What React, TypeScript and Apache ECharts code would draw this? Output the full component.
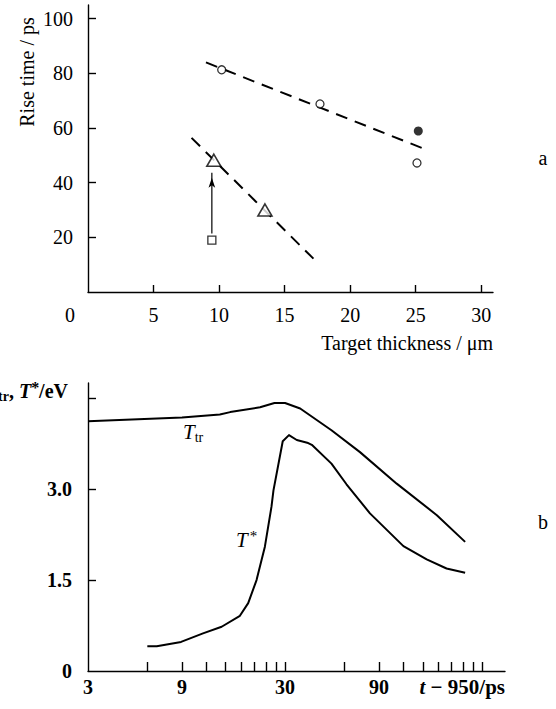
import React, { useEffect, useRef } from 'react';
import * as echarts from 'echarts';

// ---------- Panel a : rise time vs target thickness ----------
const thicknessLabels = [0, 5, 10, 15, 20, 25, 30];
const thicknessTicks = [5, 10, 15, 20, 25, 30];
const riseTicks = [20, 40, 60, 80, 100];
const openCircles = [[10.2, 81.3], [17.7, 68.8], [25.1, 47.2]];
const filledCircles = [[25.2, 58.9]];
const triangles = [[9.6, 48.2], [13.5, 30.0]];
const squares = [[9.45, 19.0]];
const arrowPoints = [[9.45, 21.4], [9.45, 43.6]];
const fitLineUpper = [[9.0, 84.0], [26.0, 51.7]];
const fitLineLower = [[7.9, 56.4], [17.2, 12.2]];

// ---------- Panel b : temperatures vs time ----------
const timeLabels = [3, 9, 30, 90];
const timeTicks = [6, 9, 12, 15, 18, 21, 24, 27, 30, 60, 90, 120, 150, 180, 210, 240, 270, 300];
const tempTicks = [1.5, 3, 4.5];
const tempLabels = [0, 1.5, 3];
const tTrTime = [3, 9, 14, 15.8, 22.4, 26.5, 30, 35.8, 51.6, 72, 110.6, 176.8, 246];
const tTrValue = [4.12, 4.18, 4.23, 4.27, 4.35, 4.42, 4.42, 4.33, 3.97, 3.61, 3.09, 2.57, 2.13];
const tStarTime = [6.0, 6.7, 8.9, 11.5, 14.3, 17.7, 19.5, 21.5, 23.7, 25.6, 26.2, 29.2, 31.4, 34.4, 39.3, 41.0, 51.6, 61.5, 80.9, 119.6, 157, 198, 246];
const tStarValue = [0.41, 0.41, 0.48, 0.62, 0.73, 0.91, 1.12, 1.5, 2.05, 2.71, 2.98, 3.79, 3.89, 3.81, 3.76, 3.73, 3.42, 3.08, 2.6, 2.06, 1.84, 1.69, 1.62];

const SERIF = "'Liberation Serif', 'Times New Roman', serif";
const BLACK = '#000';

const lg = (v: number) => Math.log10(v);

export default function App() {
  const ref = useRef<HTMLDivElement>(null);

  useEffect(() => {
    if (!ref.current) return;
    const chart = echarts.init(ref.current, undefined, { renderer: 'svg' });

    const axisLine = { show: true, onZero: false, lineStyle: { color: BLACK, width: 1.4 } };
    const baseLabel = { color: BLACK, fontFamily: SERIF, fontSize: 20 };

    const option: any = {
      animation: false,
      backgroundColor: '#fff',
      grid: [
        { left: 88, top: 5, width: 405, height: 287, containLabel: false },
        { left: 88, top: 383, width: 417, height: 288, containLabel: false },
      ],
      xAxis: [
        {
          type: 'value', gridIndex: 0, min: 0, max: 30.9,
          axisLine, splitLine: { show: false },
          axisTick: { show: true, inside: true, length: 7, customValues: thicknessTicks, lineStyle: { color: BLACK, width: 1.4 } },
          axisLabel: {
            ...baseLabel, margin: 13, customValues: thicknessLabels,
            formatter: (v: number) => (v === 0 ? '{z|0}' : String(v)),
            rich: { z: { ...baseLabel, padding: [0, 36, 0, 0] } },
          },
        },
        {
          type: 'value', gridIndex: 1, min: lg(3), max: lg(392),
          axisLine, splitLine: { show: false },
          axisTick: { show: true, inside: true, length: 9, customValues: timeTicks.map(lg), lineStyle: { color: BLACK, width: 1.4 } },
          axisLabel: {
            ...baseLabel, fontWeight: 'bold', margin: 6, customValues: timeLabels.map(lg),
            formatter: (v: number) => String(Math.round(Math.pow(10, v))),
          },
        },
      ],
      yAxis: [
        {
          type: 'value', gridIndex: 0, min: 0, max: 105,
          axisLine, splitLine: { show: false },
          axisTick: { show: true, inside: true, length: 8, customValues: riseTicks, lineStyle: { color: BLACK, width: 1.4 } },
          axisLabel: { ...baseLabel, margin: 15, customValues: riseTicks },
        },
        {
          type: 'value', gridIndex: 1, min: 0, max: 4.75,
          axisLine, splitLine: { show: false },
          axisTick: { show: true, inside: true, length: 8, customValues: tempTicks, lineStyle: { color: BLACK, width: 1.4 } },
          axisLabel: {
            ...baseLabel, fontWeight: 'bold', margin: 16, customValues: tempLabels,
            formatter: (v: number) => (v === 0 ? '0' : v.toFixed(1)),
          },
        },
      ],
      series: [
        {
          type: 'line', xAxisIndex: 0, yAxisIndex: 0, data: fitLineUpper, showSymbol: false, z: 1,
          lineStyle: { color: BLACK, width: 2, type: [12, 8] },
        },
        {
          type: 'line', xAxisIndex: 0, yAxisIndex: 0, data: fitLineLower, showSymbol: false, z: 1,
          lineStyle: { color: BLACK, width: 2, type: [12, 8] },
        },
        {
          type: 'line', xAxisIndex: 0, yAxisIndex: 0, z: 2,
          data: [
            { value: arrowPoints[0], symbol: 'none' },
            { value: arrowPoints[1], symbol: 'arrow', symbolSize: [5, 10], symbolOffset: [0, '50%'] },
          ],
          showSymbol: true,
          itemStyle: { color: BLACK },
          lineStyle: { color: BLACK, width: 1.2 },
        },
        {
          type: 'scatter', xAxisIndex: 0, yAxisIndex: 0, data: openCircles, symbol: 'circle', symbolSize: 8, z: 3,
          itemStyle: { color: '#fff', borderColor: BLACK, borderWidth: 1.3 },
        },
        {
          type: 'scatter', xAxisIndex: 0, yAxisIndex: 0, data: filledCircles, symbol: 'circle', symbolSize: 9, z: 3,
          itemStyle: { color: BLACK },
        },
        {
          type: 'scatter', xAxisIndex: 0, yAxisIndex: 0, data: triangles, symbol: 'triangle', symbolSize: [14, 12], z: 3,
          itemStyle: { color: '#fff', borderColor: BLACK, borderWidth: 1.6 },
        },
        {
          type: 'scatter', xAxisIndex: 0, yAxisIndex: 0, data: squares, symbol: 'rect', symbolSize: 8, z: 3,
          itemStyle: { color: '#fff', borderColor: BLACK, borderWidth: 1.3 },
        },
        {
          type: 'line', xAxisIndex: 1, yAxisIndex: 1, showSymbol: false, smooth: false,
          data: tTrTime.map((t, i) => [lg(t), tTrValue[i]]),
          lineStyle: { color: BLACK, width: 2, join: 'round' },
        },
        {
          type: 'line', xAxisIndex: 1, yAxisIndex: 1, showSymbol: false, smooth: false,
          data: tStarTime.map((t, i) => [lg(t), tStarValue[i]]),
          lineStyle: { color: BLACK, width: 2, join: 'round' },
        },
      ],
      graphic: [
        {
          type: 'text', x: 27, y: 72, rotation: Math.PI / 2,
          style: { text: 'Rise time / ps', fill: BLACK, font: `20px ${SERIF}`, align: 'center', verticalAlign: 'middle' },
        },
        {
          type: 'text', x: 493, y: 343,
          style: { text: 'Target thickness / μm', fill: BLACK, font: `20px ${SERIF}`, align: 'right', verticalAlign: 'middle' },
        },
        {
          type: 'text', x: 543, y: 158,
          style: { text: 'a', fill: BLACK, font: `20px ${SERIF}`, align: 'center', verticalAlign: 'middle' },
        },
        {
          type: 'text', x: 543, y: 522,
          style: { text: 'b', fill: BLACK, font: `20px ${SERIF}`, align: 'center', verticalAlign: 'middle' },
        },
        {
          type: 'text', x: 183, y: 432,
          style: {
            text: '{i|T}{s|tr}', align: 'left', verticalAlign: 'middle',
            rich: {
              i: { fill: BLACK, fontFamily: SERIF, fontSize: 21, fontStyle: 'italic', lineHeight: 24, verticalAlign: 'middle' },
              s: { fill: BLACK, fontFamily: SERIF, fontSize: 14, lineHeight: 24, verticalAlign: 'bottom', padding: [6, 0, 0, 0] },
            },
          },
        },
        {
          type: 'text', x: 236, y: 540,
          style: {
            text: '{i|T}{p|*}', align: 'left', verticalAlign: 'middle',
            rich: {
              i: { fill: BLACK, fontFamily: SERIF, fontSize: 21, fontStyle: 'italic', lineHeight: 24, verticalAlign: 'middle' },
              p: { fill: BLACK, fontFamily: SERIF, fontSize: 15, lineHeight: 24, verticalAlign: 'top', padding: [0, 0, 0, 2] },
            },
          },
        },
        {
          type: 'text', x: 68, y: 391,
          style: {
            text: '{bi|T}{bs|tr}{b|, }{bi|T}{bp|*}{b|/eV}', align: 'right', verticalAlign: 'middle',
            rich: {
              bi: { fill: BLACK, fontFamily: SERIF, fontSize: 20, fontWeight: 'bold', fontStyle: 'italic', lineHeight: 24 },
              b: { fill: BLACK, fontFamily: SERIF, fontSize: 20, fontWeight: 'bold', lineHeight: 24 },
              bs: { fill: BLACK, fontFamily: SERIF, fontSize: 14, fontWeight: 'bold', lineHeight: 24, verticalAlign: 'bottom' },
              bp: { fill: BLACK, fontFamily: SERIF, fontSize: 16, fontWeight: 'bold', lineHeight: 24, verticalAlign: 'top' },
            },
          },
        },
        {
          type: 'text', x: 505, y: 687,
          style: {
            text: '{bi|t}{b| − 950/ps}', align: 'right', verticalAlign: 'middle',
            rich: {
              bi: { fill: BLACK, fontFamily: SERIF, fontSize: 21, fontWeight: 'bold', fontStyle: 'italic' },
              b: { fill: BLACK, fontFamily: SERIF, fontSize: 21, fontWeight: 'bold' },
            },
          },
        },
      ],
    };

    chart.setOption(option);
    return () => chart.dispose();
  }, []);

  return (
    <div
      ref={ref}
      style={{ position: 'fixed', left: 0, top: 0, width: 556, height: 709, background: '#fff' }}
    />
  );
}
